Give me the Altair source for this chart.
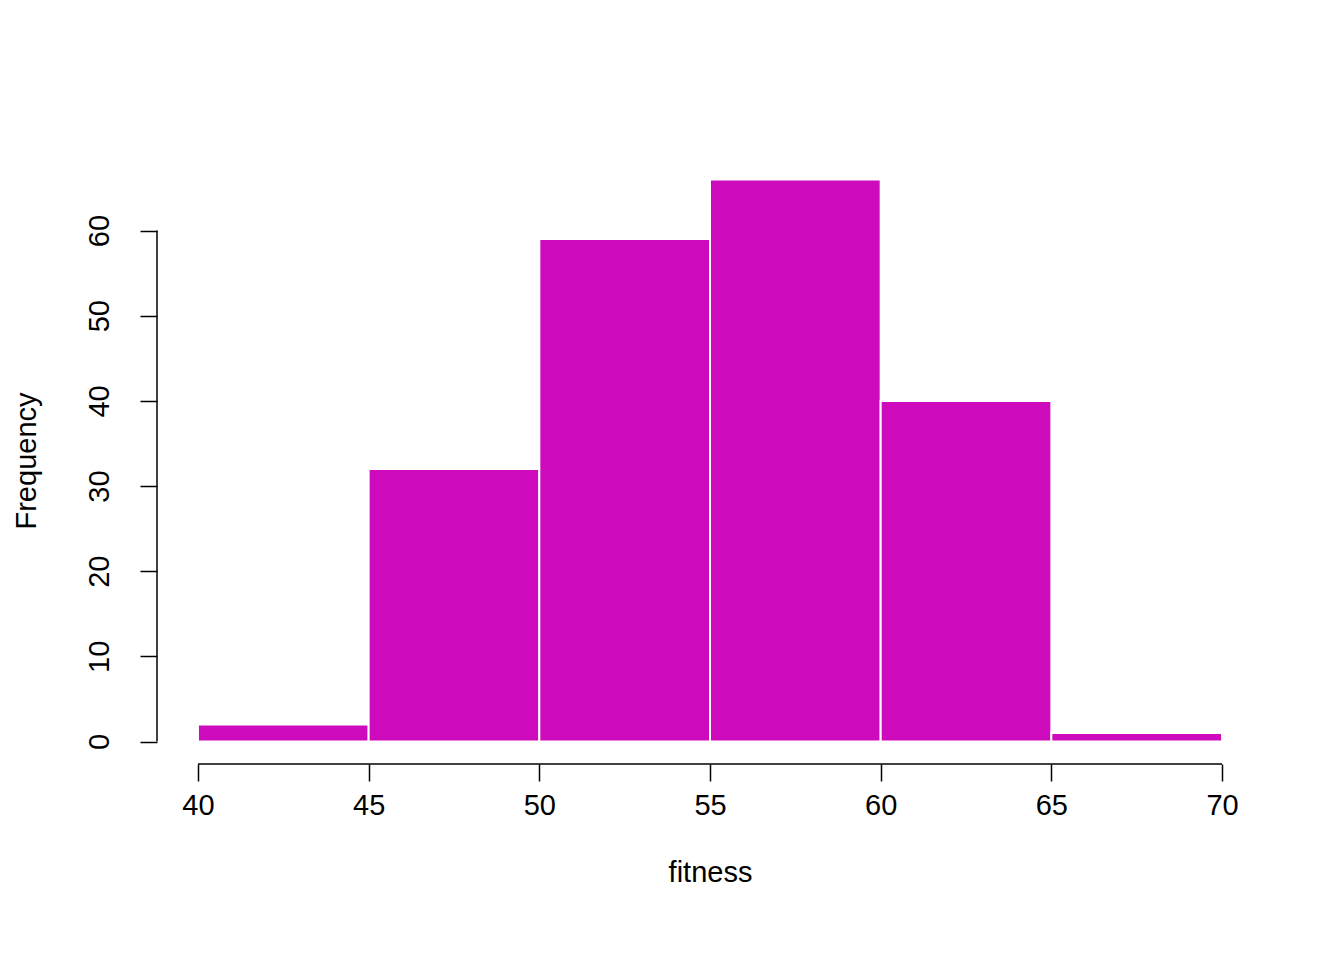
import altair as alt
import pandas as pd

bin_start = [40, 45, 50, 55, 60, 65]
bin_end = [45, 50, 55, 60, 65, 70]
counts = [2, 32, 59, 66, 40, 1]

df = pd.DataFrame({"start": bin_start, "end": bin_end, "count": counts, "base": [0] * 6})

FONT = "Liberation Sans"
FS = 29
xs = alt.Scale(domain=[38.8, 71.2], nice=False, zero=False)
ys = alt.Scale(domain=[-2.64, 68.64], nice=False, zero=False)

bars = alt.Chart(df).mark_rect(color="#CD0BBC", stroke="white", strokeWidth=2).encode(
    x=alt.X("start:Q", scale=xs, axis=alt.Axis(
        title="fitness", values=[40, 45, 50, 55, 60, 65, 70], domain=False, grid=False,
        tickSize=17, tickColor="black", tickWidth=1.5, labelFontSize=FS, labelFont=FONT,
        labelColor="black", labelPadding=10, titleFont=FONT, titleFontSize=FS,
        titleFontWeight="normal", titleColor="black", titlePadding=38)),
    x2="end:Q",
    y=alt.Y("base:Q", scale=ys, axis=alt.Axis(
        title="Frequency", values=[0, 10, 20, 30, 40, 50, 60], domain=False, grid=False,
        tickSize=17, tickColor="black", tickWidth=1.5, labelFontSize=FS, labelFont=FONT,
        labelColor="black", labelAngle=270, labelAlign="center", labelBaseline="bottom",
        labelPadding=26, titleFont=FONT, titleFontSize=FS, titleFontWeight="normal",
        titleColor="black", titlePadding=44)),
    y2="count:Q",
)

axis_lines = pd.DataFrame({"x": [40, 38.8], "x2": [70, 38.8], "y": [-2.64, 0], "y2": [-2.64, 60]})
lines = alt.Chart(axis_lines).mark_rule(color="black", strokeWidth=1.5).encode(
    x=alt.X("x:Q", scale=xs), x2="x2:Q", y=alt.Y("y:Q", scale=ys), y2="y2:Q"
)

chart = (bars + lines).properties(
    width=1106, height=607,
    autosize=alt.AutoSizeParams(type="none"),
    padding={"left": 149, "top": 149, "right": 60, "bottom": 185},
).configure_view(stroke=None)

chart.save("out.html", embed_options={"renderer": "svg", "actions": False})
